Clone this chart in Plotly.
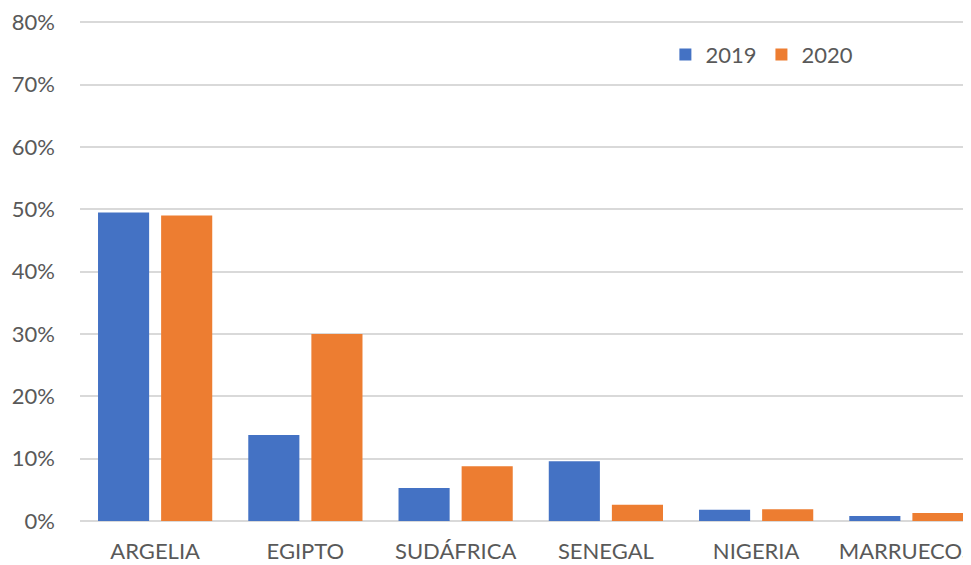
import plotly.graph_objects as go

categories = ["ARGELIA", "EGIPTO", "SUDÁFRICA", "SENEGAL", "NIGERIA", "MARRUECOS"]
values_2019 = [0.495, 0.138, 0.053, 0.096, 0.018, 0.008]
values_2020 = [0.490, 0.300, 0.088, 0.026, 0.019, 0.013]
tick_vals = [0, 0.1, 0.2, 0.3, 0.4, 0.5, 0.6, 0.7, 0.8]
tick_text = ["0%", "10%", "20%", "30%", "40%", "50%", "60%", "70%", "80%"]

FONT = "Lato, Carlito, 'Liberation Sans', sans-serif"
GREY = "#595959"

fig = go.Figure()
fig.add_trace(go.Bar(name="2019", x=categories, y=values_2019,
                     marker=dict(color="#4472C4", line=dict(width=0))))
fig.add_trace(go.Bar(name="2020", x=categories, y=values_2020,
                     marker=dict(color="#ED7D31", line=dict(width=0))))

fig.update_layout(
    width=963, height=557,
    margin=dict(l=72, r=0, t=8, b=44, autoexpand=False),
    paper_bgcolor="white", plot_bgcolor="white",
    barmode="group", bargap=0.16, bargroupgap=0.19,
    font=dict(family=FONT, size=22, color=GREY),
    showlegend=True,
    legend=dict(orientation="h", x=0.657, y=0.965, xanchor="left", yanchor="top",
                font=dict(family=FONT, size=22, color=GREY),
                bgcolor="rgba(0,0,0,0)", itemwidth=30, traceorder="normal"),
    xaxis=dict(range=[-0.5, 5.43], showgrid=False, showline=False, zeroline=False,
               ticks="", tickfont=dict(family=FONT, size=22, color=GREY),
               ticklabelstandoff=15, ticklabeloverflow="allow",
               automargin=False, fixedrange=True),
    yaxis=dict(range=[0, 0.81], tickvals=tick_vals, ticktext=tick_text,
               showgrid=True, gridcolor="#D9D9D9", gridwidth=1.5,
               zeroline=True, zerolinecolor="#D9D9D9", zerolinewidth=1.5,
               showline=False, ticks="", ticklabelstandoff=24,
               ticklabeloverflow="allow", automargin=False,
               tickfont=dict(family=FONT, size=22, color=GREY), fixedrange=True),
)

fig.write_html("out.html")
